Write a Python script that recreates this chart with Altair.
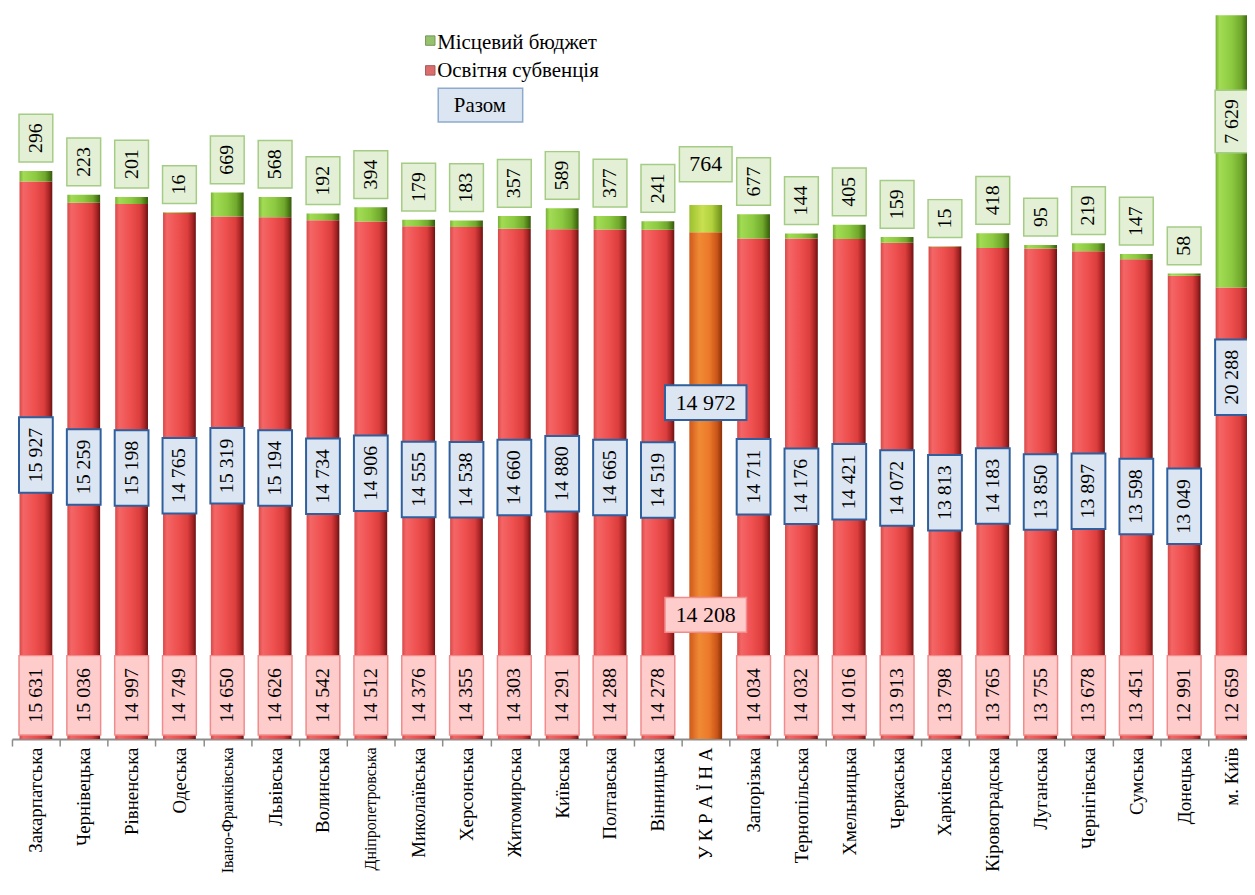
import altair as alt
import pandas as pd

UA = "У К Р А Ї Н А"
categories = ["Закарпатська", "Чернівецька", "Рівненська", "Одеська", "Івано-Франківська",
              "Львівська", "Волинська", "Дніпропетровська", "Миколаївська", "Херсонська",
              "Житомирська", "Київська", "Полтавська", "Вінницька", UA, "Запорізька",
              "Тернопільська", "Хмельницька", "Черкаська", "Харківська", "Кіровоградська",
              "Луганська", "Чернігівська", "Сумська", "Донецька", "м. Київ"]
subvention = [15631, 15036, 14997, 14749, 14650, 14626, 14542, 14512, 14376, 14355, 14303,
              14291, 14288, 14278, 14208, 14034, 14032, 14016, 13913, 13798, 13765, 13755,
              13678, 13451, 12991, 12659]
local_budget = [296, 223, 201, 16, 669, 568, 192, 394, 179, 183, 357, 589, 377, 241, 764,
                677, 144, 405, 159, 15, 418, 95, 219, 147, 58, 7629]
totals = [15927, 15259, 15198, 14765, 15319, 15194, 14734, 14906, 14555, 14538, 14660,
          14880, 14665, 14519, 14972, 14711, 14176, 14421, 14072, 13813, 14183, 13850,
          13897, 13598, 13049, 20288]
legend_labels = ["Місцевий бюджет", "Освітня субвенція", "Разом"]

H = 731
D = 20360
K = H / D
FONT = "Liberation Serif"


def fmt(v):
    return f"{v:,}".replace(",", " ")


def text_px(s):
    return sum(5 if ch == " " else 10 for ch in s)


bars = []
for c, s, l in zip(categories, subvention, local_budget):
    ua = c == UA
    bars.append(dict(cat=c, y0=0, y1=s, kind="ua_red" if ua else "red"))
    bars.append(dict(cat=c, y0=s, y1=s + l, kind="ua_green" if ua else "green"))
bars_df = pd.DataFrame(bars)

labels = []
for c, s, l, t in zip(categories, subvention, local_budget, totals):
    if c == UA:
        hh = 17.5 / K
        labels.append(dict(cat=c, kind="h_green", text=fmt(l), yc=t + 41 / K, half=hh))
        labels.append(dict(cat=c, kind="h_blue", text=fmt(t), yc=0.63 * t, half=hh))
        labels.append(dict(cat=c, kind="h_pink", text=fmt(s), yc=0.245 * s, half=hh))
        continue
    labels.append(dict(cat=c, kind="pink", text=fmt(s), yc=44 / K, half=40 / K))
    tb = fmt(t)
    labels.append(dict(cat=c, kind="blue", text=tb, yc=t / 2,
                       half=(text_px(tb) + 21) / 2 / K))
    tg = fmt(l)
    hg = (text_px(tg) + 18) / 2 / K
    yc = s + 0.61 * l if l > 2000 else t + 9 / K + hg
    labels.append(dict(cat=c, kind="green", text=tg, yc=yc, half=hg))
lab_df = pd.DataFrame(labels)
lab_df["ylo"] = lab_df["yc"] - lab_df["half"]
lab_df["yhi"] = lab_df["yc"] + lab_df["half"]


def X():
    return alt.X("cat:N", sort=categories, title=None,
                 scale=alt.Scale(range=[0, 1252], paddingInner=0, paddingOuter=0),
                 axis=alt.Axis(labelAngle=-90, labelFont=FONT,
                               labelFontSize={"condition": {"test": "length(datum.label) > 14",
                                                            "value": 16}, "value": 19},
                               labelColor="black", labelPadding=1, labelOverlap=False,
                               labelLimit=300, tickBand="extent", tickSize=7,
                               tickColor="#8c8c8c", tickWidth=1.5, domainColor="#8c8c8c",
                               domainWidth=2))


YS = alt.Scale(domain=[0, D], nice=False, zero=True)


def grad(stops):
    return alt.Gradient(gradient="linear", x1=0, x2=1, y1=0, y2=0,
                        stops=[alt.GradientStop(color=c, offset=o) for o, c in stops])


red_g = grad([(0, "#d84848"), (0.12, "#f46666"), (0.45, "#ef5050"), (0.75, "#dc3e3e"),
              (0.9, "#a82424"), (1, "#6a1212")])
green_g = grad([(0, "#78b035"), (0.12, "#a2dc55"), (0.5, "#8cc840"), (0.78, "#70a82c"),
                (0.9, "#4f8018"), (1, "#35580c")])
ua_red_g = grad([(0, "#d0581c"), (0.3, "#f08a34"), (0.6, "#ec7a2a"), (0.85, "#c85418"),
                 (1, "#8a3008")])
ua_green_g = grad([(0, "#9cc030"), (0.4, "#c8e050"), (0.7, "#b0d03c"), (1, "#6a8a18")])

base_bars = alt.Chart(bars_df)


def bar_layer(kind, color):
    return base_bars.transform_filter(alt.datum.kind == kind).mark_bar(
        size=33, color=color).encode(
        x=X(), y=alt.Y("y0:Q", scale=YS, axis=None), y2="y1:Q")


layers = [bar_layer("red", red_g), bar_layer("green", green_g),
          bar_layer("ua_red", ua_red_g), bar_layer("ua_green", ua_green_g)]

base_lab = alt.Chart(lab_df)
box_styles = {
    "pink": ("#ffcccc", "#f08c8c", 1.5, 34),
    "blue": ("#dce6f2", "#2f5f9c", 2, 34),
    "green": ("#e3f0d5", "#a5cc85", 1.5, 34),
    "h_pink": ("#ffcccc", "#f08c8c", 1.5, 82),
    "h_blue": ("#dce6f2", "#2f5f9c", 2, 82),
    "h_green": ("#e3f0d5", "#a5cc85", 1.5, 53),
}
for kind, (fill, stroke, sw, size) in box_styles.items():
    layers.append(base_lab.transform_filter(alt.datum.kind == kind).mark_bar(
        size=size, fill=fill, stroke=stroke, strokeWidth=sw).encode(
        x=X(), y=alt.Y("ylo:Q", scale=YS, axis=None), y2="yhi:Q"))

layers.append(base_lab.transform_filter(
    alt.FieldOneOfPredicate(field="kind", oneOf=["pink", "blue", "green"])).mark_text(
    angle=270, font=FONT, fontSize=20, color="black", align="center", baseline="middle").encode(
    x=X(), y=alt.Y("yc:Q", scale=YS, axis=None), text="text:N"))
layers.append(base_lab.transform_filter(
    alt.FieldOneOfPredicate(field="kind", oneOf=["h_pink", "h_blue", "h_green"])).mark_text(
    font=FONT, fontSize=22, color="black", align="center", baseline="middle").encode(
    x=X(), y=alt.Y("yc:Q", scale=YS, axis=None), text="text:N"))

# legend
leg = alt.Chart(pd.DataFrame({"a": [0]}))
layers.append(leg.mark_square(size=90, color="#6aa830", stroke="#3e6a14", strokeWidth=1).encode(
    x=alt.value(421), y=alt.value(28)))
layers.append(leg.mark_square(size=90, color="#d03030", stroke="#7a1414", strokeWidth=1).encode(
    x=alt.value(421), y=alt.value(58)))
layers.append(leg.mark_text(align="left", baseline="middle", font=FONT, fontSize=21,
                            color="black", text=legend_labels[0]).encode(
    x=alt.value(428), y=alt.value(30)))
layers.append(leg.mark_text(align="left", baseline="middle", font=FONT, fontSize=21,
                            color="black", text=legend_labels[1]).encode(
    x=alt.value(428), y=alt.value(59)))
layers.append(leg.mark_rect(fill="#dce6f2", stroke="#8eaacc", strokeWidth=1.5).encode(
    x=alt.value(429), x2=alt.value(514), y=alt.value(76), y2=alt.value(110)))
layers.append(leg.mark_text(align="center", baseline="middle", font=FONT, fontSize=21,
                            color="black", text=legend_labels[2]).encode(
    x=alt.value(471), y=alt.value(94)))

chart = alt.layer(*layers).properties(
    width=1243, height=H,
    autosize=alt.AutoSizeParams(type="none"),
    padding={"left": 4, "top": 2, "right": 0, "bottom": 135},
    background="white",
).configure_view(stroke=None)

chart.save("out.html", embed_options={"renderer": "svg", "actions": False})
